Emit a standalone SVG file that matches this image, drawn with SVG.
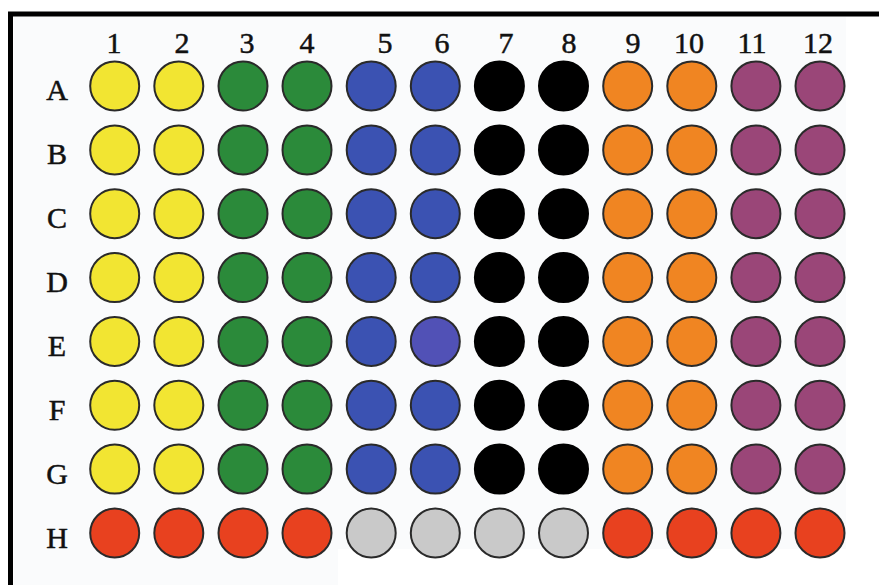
<svg xmlns="http://www.w3.org/2000/svg" width="879" height="585" viewBox="0 0 879 585">
<style>
.lbl{font-family:"Liberation Serif","Times New Roman",serif;font-size:30px;fill:#111;stroke:#111;stroke-width:0.5;text-anchor:middle}
.w{stroke:#2a2a2a;stroke-width:2}
.y{fill:#f2e532}.g{fill:#2b8a3a}.b{fill:#3b52b2}.k{fill:#000;stroke:#000}.o{fill:#f08522}.p{fill:#9a4678}.r{fill:#e8411f}.s{fill:#c9c9c9}
</style>
<rect width="879" height="585" fill="#fff"/>
<path d="M14 17 H846 V549 H338 V585 H14 Z" fill="#fafbfc"/>
<g id="frame">
<line x1="8" y1="14" x2="879" y2="14" stroke="#000" stroke-width="5"/>
<line x1="10.5" y1="12" x2="10.5" y2="585" stroke="#000" stroke-width="5"/>
</g>
<g id="col-labels">
<text class="lbl" x="114" y="53">1</text>
<text class="lbl" x="182" y="53">2</text>
<text class="lbl" x="247" y="53">3</text>
<text class="lbl" x="307" y="53">4</text>
<text class="lbl" x="385" y="53">5</text>
<text class="lbl" x="442" y="53">6</text>
<text class="lbl" x="506" y="53">7</text>
<text class="lbl" x="569" y="53">8</text>
<text class="lbl" x="633" y="53">9</text>
<text class="lbl" x="689" y="53">10</text>
<text class="lbl" x="752" y="53">11</text>
<text class="lbl" x="818" y="53">12</text>
</g>
<g id="row-labels">
<text class="lbl" x="57" y="100">A</text>
<text class="lbl" x="57" y="164">B</text>
<text class="lbl" x="57" y="228">C</text>
<text class="lbl" x="57" y="292">D</text>
<text class="lbl" x="57" y="356">E</text>
<text class="lbl" x="57" y="420">F</text>
<text class="lbl" x="57" y="484">G</text>
<text class="lbl" x="57" y="548">H</text>
</g>
<g id="row-A">
<circle id="A1" class="w y" cx="114.7" cy="86" r="24.5"/><circle id="A2" class="w y" cx="178.8" cy="86" r="24.5"/>
<circle id="A3" class="w g" cx="243" cy="86" r="24.5"/><circle id="A4" class="w g" cx="307" cy="86" r="24.5"/>
<circle id="A5" class="w b" cx="371.2" cy="86" r="24.5"/><circle id="A6" class="w b" cx="435.3" cy="86" r="24.5"/>
<circle id="A7" class="w k" cx="499.4" cy="86" r="24.5"/><circle id="A8" class="w k" cx="563.5" cy="86" r="24.5"/>
<circle id="A9" class="w o" cx="627.7" cy="86" r="24.5"/><circle id="A10" class="w o" cx="691.8" cy="86" r="24.5"/>
<circle id="A11" class="w p" cx="755.9" cy="86" r="24.5"/><circle id="A12" class="w p" cx="820" cy="86" r="24.5"/>
</g>
<g id="row-B">
<circle id="B1" class="w y" cx="114.7" cy="149.9" r="24.5"/><circle id="B2" class="w y" cx="178.8" cy="149.9" r="24.5"/>
<circle id="B3" class="w g" cx="243" cy="149.9" r="24.5"/><circle id="B4" class="w g" cx="307" cy="149.9" r="24.5"/>
<circle id="B5" class="w b" cx="371.2" cy="149.9" r="24.5"/><circle id="B6" class="w b" cx="435.3" cy="149.9" r="24.5"/>
<circle id="B7" class="w k" cx="499.4" cy="149.9" r="24.5"/><circle id="B8" class="w k" cx="563.5" cy="149.9" r="24.5"/>
<circle id="B9" class="w o" cx="627.7" cy="149.9" r="24.5"/><circle id="B10" class="w o" cx="691.8" cy="149.9" r="24.5"/>
<circle id="B11" class="w p" cx="755.9" cy="149.9" r="24.5"/><circle id="B12" class="w p" cx="820" cy="149.9" r="24.5"/>
</g>
<g id="row-C">
<circle id="C1" class="w y" cx="114.7" cy="213.7" r="24.5"/><circle id="C2" class="w y" cx="178.8" cy="213.7" r="24.5"/>
<circle id="C3" class="w g" cx="243" cy="213.7" r="24.5"/><circle id="C4" class="w g" cx="307" cy="213.7" r="24.5"/>
<circle id="C5" class="w b" cx="371.2" cy="213.7" r="24.5"/><circle id="C6" class="w b" cx="435.3" cy="213.7" r="24.5"/>
<circle id="C7" class="w k" cx="499.4" cy="213.7" r="24.5"/><circle id="C8" class="w k" cx="563.5" cy="213.7" r="24.5"/>
<circle id="C9" class="w o" cx="627.7" cy="213.7" r="24.5"/><circle id="C10" class="w o" cx="691.8" cy="213.7" r="24.5"/>
<circle id="C11" class="w p" cx="755.9" cy="213.7" r="24.5"/><circle id="C12" class="w p" cx="820" cy="213.7" r="24.5"/>
</g>
<g id="row-D">
<circle id="D1" class="w y" cx="114.7" cy="277.6" r="24.5"/><circle id="D2" class="w y" cx="178.8" cy="277.6" r="24.5"/>
<circle id="D3" class="w g" cx="243" cy="277.6" r="24.5"/><circle id="D4" class="w g" cx="307" cy="277.6" r="24.5"/>
<circle id="D5" class="w b" cx="371.2" cy="277.6" r="24.5"/><circle id="D6" class="w b" cx="435.3" cy="277.6" r="24.5"/>
<circle id="D7" class="w k" cx="499.4" cy="277.6" r="24.5"/><circle id="D8" class="w k" cx="563.5" cy="277.6" r="24.5"/>
<circle id="D9" class="w o" cx="627.7" cy="277.6" r="24.5"/><circle id="D10" class="w o" cx="691.8" cy="277.6" r="24.5"/>
<circle id="D11" class="w p" cx="755.9" cy="277.6" r="24.5"/><circle id="D12" class="w p" cx="820" cy="277.6" r="24.5"/>
</g>
<g id="row-E">
<circle id="E1" class="w y" cx="114.7" cy="341.4" r="24.5"/><circle id="E2" class="w y" cx="178.8" cy="341.4" r="24.5"/>
<circle id="E3" class="w g" cx="243" cy="341.4" r="24.5"/><circle id="E4" class="w g" cx="307" cy="341.4" r="24.5"/>
<circle id="E5" class="w b" cx="371.2" cy="341.4" r="24.5"/><circle id="E6" class="w" fill="#5151b6" cx="435.3" cy="341.4" r="24.5"/>
<circle id="E7" class="w k" cx="499.4" cy="341.4" r="24.5"/><circle id="E8" class="w k" cx="563.5" cy="341.4" r="24.5"/>
<circle id="E9" class="w o" cx="627.7" cy="341.4" r="24.5"/><circle id="E10" class="w o" cx="691.8" cy="341.4" r="24.5"/>
<circle id="E11" class="w p" cx="755.9" cy="341.4" r="24.5"/><circle id="E12" class="w p" cx="820" cy="341.4" r="24.5"/>
</g>
<g id="row-F">
<circle id="F1" class="w y" cx="114.7" cy="405.3" r="24.5"/><circle id="F2" class="w y" cx="178.8" cy="405.3" r="24.5"/>
<circle id="F3" class="w g" cx="243" cy="405.3" r="24.5"/><circle id="F4" class="w g" cx="307" cy="405.3" r="24.5"/>
<circle id="F5" class="w b" cx="371.2" cy="405.3" r="24.5"/><circle id="F6" class="w b" cx="435.3" cy="405.3" r="24.5"/>
<circle id="F7" class="w k" cx="499.4" cy="405.3" r="24.5"/><circle id="F8" class="w k" cx="563.5" cy="405.3" r="24.5"/>
<circle id="F9" class="w o" cx="627.7" cy="405.3" r="24.5"/><circle id="F10" class="w o" cx="691.8" cy="405.3" r="24.5"/>
<circle id="F11" class="w p" cx="755.9" cy="405.3" r="24.5"/><circle id="F12" class="w p" cx="820" cy="405.3" r="24.5"/>
</g>
<g id="row-G">
<circle id="G1" class="w y" cx="114.7" cy="469.1" r="24.5"/><circle id="G2" class="w y" cx="178.8" cy="469.1" r="24.5"/>
<circle id="G3" class="w g" cx="243" cy="469.1" r="24.5"/><circle id="G4" class="w g" cx="307" cy="469.1" r="24.5"/>
<circle id="G5" class="w b" cx="371.2" cy="469.1" r="24.5"/><circle id="G6" class="w b" cx="435.3" cy="469.1" r="24.5"/>
<circle id="G7" class="w k" cx="499.4" cy="469.1" r="24.5"/><circle id="G8" class="w k" cx="563.5" cy="469.1" r="24.5"/>
<circle id="G9" class="w o" cx="627.7" cy="469.1" r="24.5"/><circle id="G10" class="w o" cx="691.8" cy="469.1" r="24.5"/>
<circle id="G11" class="w p" cx="755.9" cy="469.1" r="24.5"/><circle id="G12" class="w p" cx="820" cy="469.1" r="24.5"/>
</g>
<g id="row-H">
<circle id="H1" class="w r" cx="114.7" cy="533" r="24.5"/><circle id="H2" class="w r" cx="178.8" cy="533" r="24.5"/>
<circle id="H3" class="w r" cx="243" cy="533" r="24.5"/><circle id="H4" class="w r" cx="307" cy="533" r="24.5"/>
<circle id="H5" class="w s" cx="371.2" cy="533" r="24.5"/><circle id="H6" class="w s" cx="435.3" cy="533" r="24.5"/>
<circle id="H7" class="w s" cx="499.4" cy="533" r="24.5"/><circle id="H8" class="w s" cx="563.5" cy="533" r="24.5"/>
<circle id="H9" class="w r" cx="627.7" cy="533" r="24.5"/><circle id="H10" class="w r" cx="691.8" cy="533" r="24.5"/>
<circle id="H11" class="w r" cx="755.9" cy="533" r="24.5"/><circle id="H12" class="w r" cx="820" cy="533" r="24.5"/>
</g>
</svg>
